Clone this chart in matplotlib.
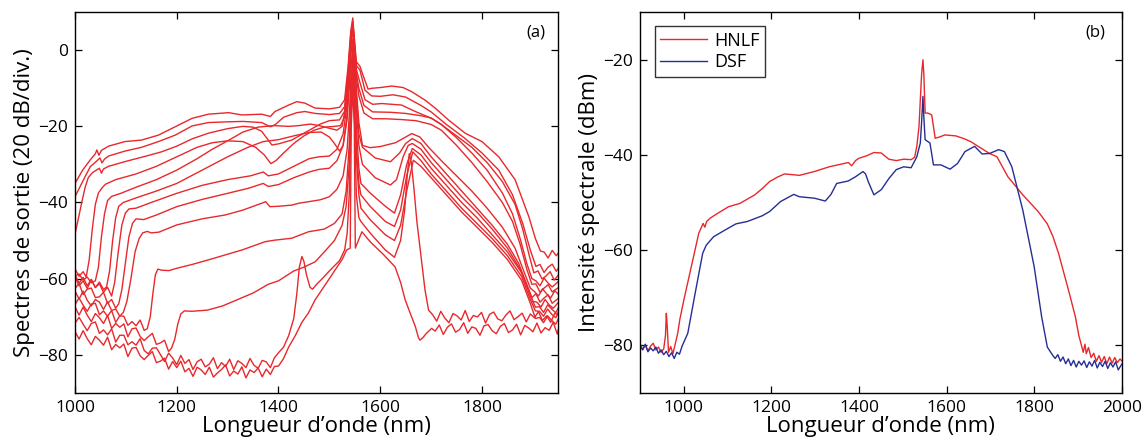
import matplotlib
matplotlib.use('Agg')
import matplotlib.pyplot as plt

plt.rcParams['font.family'] = ['Open Sans', 'DejaVu Sans']

# ---- panel (a): output spectra, 13 traces (nm, dB) ----
spec_a = [(1000, -35.0), (1015, -31.5), (1030, -28.8), (1040, -27.2), (1043, -26.2), (1047, -27.6), (1052, -26.3),
          (1066, -25.2), (1098, -24.0), (1131, -23.6), (1164, -22.3), (1197, -20.1), (1230, -17.9), (1262, -16.8),
          (1302, -16.4), (1328, -17.0), (1367, -16.8), (1384, -17.4), (1393, -16.1), (1420, -14.4), (1436, -13.5),
          (1452, -13.9), (1472, -15.2), (1500, -15.4), (1520, -15.0), (1530, -13.0), (1537, -4.0), (1542, 5.0),
          (1546, 8.5), (1549, 3.5), (1553, -3.0), (1560, -4.2), (1566, -6.5), (1576, -10.2), (1583, -10.0),
          (1600, -9.8), (1623, -9.4), (1645, -9.8), (1662, -10.9), (1688, -13.1), (1708, -15.2), (1734, -18.3),
          (1767, -21.8), (1800, -24.0), (1833, -28.0), (1865, -34.0), (1892, -43.7), (1905, -49.5), (1915, -52.8),
          (1922, -53.0), (1930, -54.6), (1938, -52.6), (1946, -54.0), (1950, -53.3)]
spec_b = [(1000, -38.5), (1015, -34.5), (1030, -30.6), (1042, -29.2), (1049, -28.3), (1053, -29.6), (1058, -28.6),
          (1066, -27.8), (1098, -26.5), (1131, -25.5), (1164, -24.0), (1197, -22.3), (1230, -19.9), (1262, -19.0),
          (1302, -18.8), (1330, -18.7), (1367, -19.0), (1384, -20.1), (1393, -19.6), (1410, -17.6), (1436, -16.4),
          (1452, -16.1), (1472, -16.6), (1500, -16.9), (1520, -16.6), (1530, -14.8), (1537, -5.0), (1542, 4.0),
          (1546, 7.5), (1549, 2.5), (1553, -4.0), (1560, -5.2), (1570, -10.5), (1583, -12.0), (1600, -12.1),
          (1625, -11.7), (1650, -12.3), (1680, -14.5), (1700, -16.2), (1730, -19.5), (1765, -23.0), (1800, -27.0),
          (1833, -31.5), (1860, -38.0), (1880, -45.5), (1895, -52.5), (1906, -56.8), (1914, -56.3), (1922, -58.4),
          (1930, -57.0), (1938, -56.2), (1946, -58.1), (1950, -57.3)]
spec_c = [(1000, -48.3), (1007, -44.0), (1014, -39.5), (1020, -36.0), (1026, -33.5), (1034, -32.2), (1042, -31.5),
          (1048, -31.0), (1052, -32.3), (1056, -31.2), (1066, -30.5), (1100, -29.2), (1140, -27.8), (1170, -26.7),
          (1200, -25.2), (1230, -23.3), (1262, -21.8), (1300, -20.6), (1330, -20.0), (1350, -20.2), (1367, -21.3),
          (1387, -24.9), (1400, -24.6), (1426, -23.6), (1450, -21.8), (1470, -20.3), (1482, -19.4), (1500, -18.5),
          (1520, -18.3), (1530, -16.0), (1537, -7.0), (1542, 3.0), (1546, 6.5), (1549, 1.5), (1553, -5.0),
          (1558, -7.5), (1570, -13.0), (1585, -14.2), (1603, -14.0), (1642, -14.4), (1669, -16.1), (1701, -17.9),
          (1720, -19.5), (1750, -22.5), (1780, -25.5), (1810, -29.5), (1840, -34.5), (1865, -40.5), (1880, -47.0),
          (1893, -54.0), (1902, -58.5), (1910, -58.0), (1918, -60.1), (1926, -59.3), (1934, -58.2), (1942, -60.4),
          (1950, -59.1)]
spec_d = [(1000, -57.5), (1008, -59.4), (1016, -58.2), (1022, -59.6), (1028, -55.0), (1034, -47.0), (1040, -40.5),
          (1046, -37.5), (1053, -36.2), (1060, -35.2), (1080, -34.0), (1120, -32.5), (1160, -30.5), (1200, -28.0),
          (1240, -25.5), (1270, -24.3), (1300, -23.8), (1330, -24.0), (1355, -25.5), (1372, -27.5), (1385, -29.8),
          (1395, -29.0), (1410, -27.0), (1430, -24.5), (1450, -22.5), (1470, -21.0), (1490, -20.2), (1510, -20.0),
          (1522, -19.8), (1530, -17.5), (1537, -8.0), (1542, 2.0), (1546, 5.5), (1549, 1.0), (1553, -6.0),
          (1558, -10.0), (1568, -14.5), (1585, -16.2), (1620, -16.3), (1650, -16.6), (1680, -17.2), (1700, -17.8),
          (1720, -19.5), (1750, -23.0), (1780, -27.0), (1810, -31.5), (1840, -37.5), (1860, -43.0), (1875, -49.5),
          (1888, -56.0), (1898, -60.0), (1906, -60.6), (1914, -61.9), (1922, -59.9), (1930, -61.2), (1938, -62.2),
          (1950, -60.8)]
spec_e = [(1000, -59.3), (1008, -58.8), (1016, -60.4), (1024, -59.6), (1032, -61.1), (1040, -60.6), (1046, -57.0),
          (1052, -49.0), (1058, -43.0), (1064, -39.5), (1072, -38.4), (1090, -37.6), (1120, -36.0), (1160, -34.0),
          (1200, -31.5), (1240, -28.5), (1270, -26.0), (1300, -23.8), (1330, -21.5), (1360, -20.2), (1390, -19.8),
          (1420, -20.0), (1440, -19.8), (1463, -19.4), (1480, -19.8), (1500, -20.5), (1515, -21.0), (1525, -20.0),
          (1533, -14.0), (1539, -3.0), (1543, 4.0), (1546, 7.0), (1549, 2.0), (1553, -7.0), (1558, -12.0),
          (1568, -16.5), (1585, -18.0), (1610, -18.0), (1640, -18.2), (1670, -18.5), (1700, -19.5), (1720, -21.0),
          (1750, -25.0), (1780, -29.5), (1810, -34.5), (1840, -40.0), (1860, -45.0), (1875, -51.0), (1888, -57.5),
          (1898, -61.5), (1906, -61.4), (1914, -63.6), (1922, -62.5), (1930, -61.6), (1938, -63.5), (1950, -62.4)]
spec_f = [(1000, -59.0), (1008, -61.2), (1016, -59.7), (1024, -61.9), (1032, -60.2), (1040, -62.4), (1048, -60.9),
          (1056, -62.9), (1062, -62.2), (1068, -58.0), (1074, -50.0), (1080, -44.0), (1086, -41.0), (1095, -40.0),
          (1120, -38.8), (1160, -37.0), (1200, -35.0), (1250, -31.5), (1300, -28.0), (1340, -25.5), (1370, -24.0),
          (1400, -23.5), (1430, -22.5), (1460, -21.6), (1484, -21.5), (1500, -22.8), (1510, -24.5), (1520, -26.5),
          (1527, -25.0), (1534, -18.0), (1540, -5.0), (1543, 3.0), (1546, 6.0), (1549, 1.0), (1553, -10.0),
          (1558, -19.0), (1565, -25.0), (1580, -25.6), (1600, -25.3), (1630, -24.3), (1650, -22.8), (1662, -21.9),
          (1678, -22.8), (1695, -25.5), (1720, -29.0), (1750, -33.0), (1780, -37.0), (1810, -41.5), (1840, -46.5),
          (1865, -52.0), (1882, -58.0), (1895, -62.5), (1903, -63.4), (1911, -64.6), (1919, -62.7), (1927, -64.0),
          (1935, -65.1), (1943, -63.2), (1950, -64.1)]
spec_g = [(1000, -59.6), (1008, -61.9), (1016, -60.6), (1024, -62.6), (1032, -60.3), (1040, -62.3), (1048, -61.4),
          (1056, -63.6), (1064, -62.3), (1072, -64.6), (1078, -61.0), (1085, -53.0), (1092, -46.0), (1099, -42.8),
          (1106, -41.7), (1120, -41.5), (1150, -40.0), (1200, -37.6), (1250, -35.5), (1300, -34.0), (1345, -33.0),
          (1370, -32.0), (1380, -33.0), (1400, -32.5), (1430, -30.5), (1460, -28.5), (1480, -28.0), (1500, -27.8),
          (1515, -26.0), (1527, -22.0), (1535, -14.0), (1540, -3.0), (1543, 3.0), (1546, 5.0), (1549, 0.0),
          (1553, -12.0), (1558, -22.0), (1565, -25.5), (1590, -28.3), (1620, -29.3), (1638, -27.0), (1650, -24.5),
          (1663, -23.2), (1680, -24.5), (1700, -28.0), (1730, -32.5), (1760, -37.0), (1790, -41.5), (1820, -46.0),
          (1850, -51.0), (1872, -56.0), (1888, -61.5), (1898, -65.0), (1906, -64.0), (1914, -66.2), (1922, -65.1),
          (1930, -64.3), (1938, -66.5), (1950, -65.2)]
spec_h = [(1000, -62.6), (1008, -61.3), (1016, -64.2), (1024, -62.8), (1032, -62.5), (1040, -65.0), (1048, -64.8),
          (1056, -63.6), (1064, -66.5), (1072, -65.5), (1080, -67.8), (1086, -66.6), (1092, -63.0), (1099, -56.0),
          (1106, -49.0), (1113, -45.5), (1120, -44.3), (1135, -44.5), (1160, -43.3), (1200, -41.1), (1250, -39.2),
          (1300, -37.6), (1340, -36.3), (1370, -35.0), (1380, -35.8), (1400, -35.3), (1430, -33.5), (1460, -32.0),
          (1480, -31.3), (1500, -31.0), (1515, -29.0), (1527, -25.0), (1535, -18.0), (1540, -8.0), (1543, 0.0),
          (1546, 3.0), (1549, -2.0), (1553, -15.0), (1558, -25.0), (1565, -30.0), (1590, -33.5), (1620, -35.4),
          (1632, -34.0), (1645, -28.0), (1655, -25.0), (1663, -24.5), (1680, -26.0), (1700, -29.5), (1730, -34.0),
          (1760, -38.5), (1790, -42.5), (1820, -47.0), (1850, -52.0), (1875, -57.5), (1890, -62.5), (1900, -66.0),
          (1908, -66.2), (1916, -67.5), (1924, -65.5), (1932, -66.9), (1940, -67.8), (1950, -66.3)]
spec_i = [(1000, -63.3), (1008, -65.4), (1016, -63.3), (1024, -65.7), (1032, -67.2), (1040, -65.5), (1048, -66.2),
          (1056, -68.1), (1064, -66.1), (1072, -68.4), (1080, -68.0), (1088, -69.9), (1095, -68.9), (1102, -66.0),
          (1110, -60.0), (1118, -53.0), (1126, -49.5), (1133, -48.0), (1142, -47.6), (1150, -48.0), (1165, -47.8),
          (1200, -45.9), (1250, -44.3), (1295, -43.3), (1330, -42.0), (1367, -40.2), (1375, -39.8), (1383, -41.1),
          (1400, -41.0), (1426, -40.7), (1440, -40.2), (1459, -39.8), (1482, -39.3), (1500, -38.5), (1515, -36.5),
          (1527, -33.0), (1535, -26.0), (1540, -15.0), (1543, -4.0), (1546, 1.0), (1549, -5.0), (1553, -20.0),
          (1558, -31.0), (1562, -35.0), (1580, -37.5), (1610, -41.0), (1628, -42.8), (1640, -38.0), (1652, -30.0),
          (1663, -25.8), (1680, -27.5), (1700, -31.0), (1730, -35.5), (1760, -40.0), (1790, -44.0), (1820, -48.5),
          (1850, -53.0), (1878, -58.5), (1895, -64.5), (1905, -67.5), (1913, -67.4), (1921, -68.9), (1929, -66.9),
          (1937, -68.0), (1945, -69.0), (1950, -67.7)]
spec_j = [(1000, -66.8), (1008, -65.1), (1016, -67.0), (1024, -68.6), (1032, -66.7), (1040, -66.5), (1048, -69.5),
          (1056, -68.5), (1064, -69.9), (1072, -68.4), (1080, -71.5), (1088, -69.8), (1096, -69.9), (1104, -72.3),
          (1112, -71.3), (1120, -72.4), (1128, -70.9), (1136, -73.6), (1142, -73.2), (1148, -70.0), (1153, -64.0),
          (1158, -59.0), (1163, -57.5), (1170, -57.8), (1185, -57.9), (1200, -57.3), (1230, -56.3), (1262, -55.1),
          (1300, -53.6), (1328, -52.5), (1374, -50.3), (1393, -49.9), (1426, -49.4), (1459, -47.7), (1490, -47.0),
          (1510, -45.5), (1525, -43.0), (1533, -37.0), (1539, -25.0), (1543, -8.0), (1546, -1.0), (1549, -8.0),
          (1553, -25.0), (1558, -35.0), (1562, -38.0), (1580, -41.0), (1610, -45.0), (1628, -46.3), (1640, -42.0),
          (1652, -33.0), (1664, -26.7), (1680, -29.0), (1700, -32.5), (1730, -37.0), (1760, -41.5), (1790, -45.5),
          (1820, -49.5), (1850, -54.0), (1878, -59.5), (1895, -65.5), (1905, -68.5), (1913, -68.6), (1921, -69.9),
          (1929, -68.0), (1937, -69.4), (1945, -70.3), (1950, -68.8)]
spec_k = [(1000, -67.4), (1008, -69.6), (1016, -67.5), (1024, -69.6), (1032, -71.3), (1040, -69.2), (1048, -70.3),
          (1056, -71.8), (1064, -69.7), (1072, -73.1), (1080, -71.8), (1088, -72.8), (1096, -71.9), (1104, -75.3),
          (1112, -73.2), (1120, -73.0), (1128, -75.2), (1136, -76.3), (1144, -75.3), (1152, -74.4), (1160, -77.3),
          (1168, -76.9), (1176, -76.2), (1184, -79.2), (1190, -78.2), (1196, -76.0), (1202, -72.0), (1208, -69.3),
          (1215, -68.5), (1230, -68.6), (1260, -68.3), (1290, -67.2), (1320, -65.5), (1350, -63.8), (1380, -61.5),
          (1400, -60.6), (1430, -58.0), (1450, -57.0), (1472, -55.6), (1490, -53.0), (1510, -50.0), (1525, -46.0),
          (1533, -41.0), (1539, -30.0), (1543, -12.0), (1546, -3.0), (1549, -12.0), (1553, -28.0), (1558, -38.0),
          (1562, -41.5), (1580, -44.5), (1610, -48.5), (1628, -50.0), (1640, -46.0), (1652, -37.0), (1665, -28.9),
          (1680, -30.5), (1700, -33.5), (1730, -38.0), (1760, -42.5), (1790, -46.5), (1820, -50.5), (1850, -55.0),
          (1878, -60.5), (1895, -66.5), (1905, -70.5), (1913, -70.2), (1921, -71.6), (1929, -69.8), (1937, -71.0),
          (1945, -72.0), (1950, -70.6)]
spec_l = [(1000, -71.7), (1008, -70.2), (1016, -72.0), (1024, -73.7), (1032, -71.8), (1040, -71.4), (1048, -74.4),
          (1056, -73.5), (1064, -74.8), (1072, -73.2), (1080, -76.7), (1088, -74.9), (1096, -74.9), (1104, -77.4),
          (1112, -76.6), (1120, -77.5), (1128, -75.8), (1136, -78.9), (1144, -79.8), (1152, -78.3), (1160, -78.2),
          (1168, -80.0), (1176, -81.8), (1184, -79.6), (1192, -80.9), (1200, -82.6), (1208, -80.2), (1216, -82.3),
          (1224, -81.3), (1232, -83.9), (1240, -81.9), (1248, -81.2), (1256, -83.2), (1264, -82.5), (1272, -80.8),
          (1280, -83.7), (1288, -82.1), (1296, -83.1), (1304, -81.2), (1312, -83.9), (1320, -81.6), (1328, -82.3),
          (1336, -83.4), (1344, -81.0), (1352, -82.8), (1360, -83.6), (1368, -81.5), (1376, -81.9), (1384, -83.4),
          (1392, -80.8), (1400, -79.5), (1410, -78.0), (1420, -75.0), (1430, -70.5), (1436, -64.0), (1441, -57.0),
          (1446, -54.2), (1450, -55.5), (1455, -59.0), (1462, -62.3), (1467, -62.8), (1475, -61.5), (1484, -60.3),
          (1500, -58.0), (1520, -55.3), (1530, -52.5), (1535, -48.0), (1539, -38.0), (1543, -15.0), (1546, -5.0),
          (1549, -15.0), (1553, -38.0), (1558, -44.0), (1562, -45.0), (1580, -48.0), (1610, -52.5), (1628, -54.4),
          (1640, -50.0), (1648, -42.0), (1653, -33.0), (1657, -27.2), (1661, -29.5), (1666, -36.0), (1672, -45.0),
          (1680, -54.0), (1688, -63.0), (1695, -68.3), (1703, -69.5), (1711, -71.2), (1719, -68.6), (1727, -70.4),
          (1735, -71.6), (1743, -69.2), (1751, -69.8), (1759, -70.9), (1767, -68.4), (1775, -71.3), (1783, -69.7),
          (1791, -70.1), (1799, -68.9), (1807, -71.7), (1815, -69.4), (1823, -68.8), (1831, -70.6), (1839, -71.1),
          (1847, -69.6), (1855, -68.5), (1863, -70.8), (1871, -70.0), (1879, -69.1), (1887, -71.4), (1895, -69.3),
          (1903, -70.3), (1911, -68.7), (1919, -71.0), (1927, -69.8), (1935, -71.5), (1943, -69.1), (1950, -69.6)]
spec_m = [(1000, -73.9), (1008, -75.9), (1016, -73.7), (1024, -75.8), (1032, -77.4), (1040, -75.2), (1048, -76.2),
          (1056, -77.5), (1064, -75.4), (1072, -78.7), (1080, -77.3), (1088, -78.2), (1096, -77.2), (1104, -80.5),
          (1112, -78.3), (1120, -78.1), (1128, -80.3), (1136, -81.3), (1144, -80.2), (1152, -79.2), (1160, -82.1),
          (1168, -81.7), (1176, -80.9), (1184, -83.8), (1192, -81.8), (1200, -83.4), (1208, -81.7), (1216, -84.5),
          (1224, -83.6), (1232, -85.7), (1240, -83.3), (1248, -84.0), (1256, -85.2), (1264, -83.3), (1272, -85.9),
          (1280, -84.8), (1288, -83.9), (1296, -82.7), (1304, -85.6), (1312, -84.3), (1320, -85.1), (1328, -83.2),
          (1336, -86.1), (1344, -84.0), (1352, -84.7), (1360, -83.5), (1368, -85.8), (1376, -83.8), (1384, -85.2),
          (1392, -83.1), (1400, -83.0), (1410, -81.0), (1420, -78.0), (1433, -75.0), (1446, -71.5), (1459, -69.0),
          (1472, -65.6), (1490, -62.0), (1510, -58.0), (1525, -55.0), (1534, -52.5), (1541, -52.0), (1543, -20.0),
          (1546, -10.0), (1549, -20.0), (1551, -52.0), (1557, -50.0), (1564, -47.7), (1575, -49.5), (1583, -50.7),
          (1605, -53.5), (1629, -56.9), (1640, -61.0), (1649, -65.6), (1660, -69.5), (1669, -72.6), (1675, -75.5),
          (1678, -76.2), (1684, -75.5), (1690, -74.5), (1701, -73.1), (1708, -73.8), (1716, -72.2), (1724, -74.7),
          (1732, -72.8), (1740, -71.9), (1748, -74.1), (1756, -73.4), (1764, -71.6), (1772, -74.4), (1780, -72.7),
          (1788, -73.1), (1796, -74.9), (1804, -72.4), (1812, -72.1), (1820, -73.7), (1828, -74.5), (1836, -72.6),
          (1844, -71.8), (1852, -74.2), (1860, -73.5), (1868, -72.0), (1876, -74.8), (1884, -72.3), (1892, -73.0),
          (1900, -74.0), (1908, -71.7), (1916, -74.3), (1924, -72.9), (1932, -73.6), (1940, -71.5), (1948, -74.6),
          (1950, -73.4)]
spectra_a = [spec_a, spec_b, spec_c, spec_d, spec_e, spec_f, spec_g,
             spec_h, spec_i, spec_j, spec_k, spec_l, spec_m]

# ---- panel (b): HNLF vs DSF (nm, dBm) ----
hnlf = [(900, -79.7), (906, -80.9), (912, -80.0), (918, -81.2), (924, -80.2), (930, -79.6), (936, -81.0), (942, -80.4),
        (948, -81.5), (954, -80.8), (958, -78.0), (960, -73.3), (962, -76.0), (965, -81.5), (970, -80.3), (975, -81.8),
        (981, -79.5), (986, -77.5), (991, -74.5), (1000, -70.5), (1017, -63.5), (1034, -56.5), (1044, -54.4),
        (1048, -55.2), (1052, -54.0), (1060, -53.3), (1077, -52.3), (1102, -50.9), (1128, -50.2), (1145, -49.3),
        (1162, -48.4), (1180, -47.0), (1196, -45.6), (1213, -44.7), (1230, -44.0), (1264, -44.3), (1298, -43.5),
        (1332, -42.5), (1366, -41.8), (1376, -41.6), (1383, -42.3), (1392, -41.2), (1400, -40.7), (1417, -40.2),
        (1434, -39.5), (1451, -39.6), (1468, -40.9), (1485, -41.2), (1502, -40.9), (1519, -41.0), (1527, -40.5),
        (1532, -38.2), (1537, -34.0), (1540, -28.4), (1543, -23.0), (1546, -20.0), (1548, -23.0), (1551, -31.2),
        (1557, -31.2), (1566, -31.6), (1574, -36.5), (1585, -36.2), (1596, -35.8), (1621, -36.0), (1640, -36.6),
        (1655, -37.2), (1672, -38.2), (1698, -39.7), (1715, -40.4), (1740, -44.6), (1774, -48.4), (1809, -51.9),
        (1830, -54.5), (1843, -57.2), (1856, -60.8), (1868, -64.9), (1880, -69.0), (1894, -74.0), (1902, -78.0),
        (1907, -79.7), (1912, -81.5), (1916, -79.8), (1919, -81.8), (1924, -80.5), (1930, -82.6), (1936, -81.7),
        (1942, -83.4), (1948, -82.2), (1954, -83.6), (1960, -82.4), (1966, -83.9), (1972, -82.5), (1978, -83.8),
        (1984, -82.6), (1990, -83.7), (1996, -82.9), (2000, -83.3)]
dsf = [(900, -80.2), (906, -81.0), (912, -79.8), (918, -81.4), (924, -80.6), (930, -81.2), (936, -80.4), (942, -81.7),
       (948, -81.0), (954, -82.0), (960, -81.3), (966, -82.4), (972, -81.6), (978, -82.8), (984, -81.5), (990, -81.9),
       (996, -80.2), (1009, -77.5), (1026, -69.0), (1043, -60.7), (1051, -59.0), (1068, -57.2), (1094, -55.8),
       (1119, -54.5), (1145, -54.0), (1179, -52.8), (1196, -51.9), (1221, -49.8), (1251, -48.3), (1264, -48.8),
       (1298, -49.1), (1323, -49.7), (1336, -48.3), (1349, -46.0), (1375, -45.5), (1392, -44.6), (1409, -43.5),
       (1415, -44.0), (1421, -45.6), (1434, -48.4), (1451, -47.3), (1468, -45.0), (1485, -43.1), (1502, -42.5),
       (1519, -42.7), (1532, -40.4), (1540, -37.5), (1543, -33.0), (1546, -27.7), (1548, -32.0), (1551, -36.8),
       (1562, -37.5), (1570, -42.1), (1587, -42.1), (1608, -43.0), (1625, -41.8), (1642, -39.3), (1664, -38.2),
       (1681, -39.8), (1698, -39.7), (1719, -38.9), (1732, -39.3), (1749, -42.5), (1774, -51.6), (1800, -63.5),
       (1817, -74.0), (1830, -80.4), (1842, -82.1), (1848, -82.8), (1854, -82.0), (1860, -83.4), (1866, -82.5),
       (1872, -83.9), (1878, -82.9), (1884, -84.3), (1890, -83.2), (1896, -84.6), (1902, -83.4), (1908, -84.2),
       (1914, -83.3), (1920, -84.7), (1926, -83.5), (1932, -84.4), (1938, -83.2), (1944, -84.8), (1950, -83.6),
       (1956, -84.5), (1962, -83.4), (1968, -84.9), (1974, -83.7), (1980, -84.6), (1986, -83.5), (1992, -85.2),
       (2000, -84.0)]

RED = '#e8282c'
BLUE = '#252f93'


def style_axes(ax):
    ax.tick_params(direction='in', top=True, right=True, length=5, width=0.9,
                   labelsize=12.5, pad=5)
    for s in ax.spines.values():
        s.set_linewidth(1.0)


fig = plt.figure(figsize=(11.45, 4.41), dpi=100)

ax1 = fig.add_axes([0.0655, 0.1095, 0.4221, 0.8628])
for sp in spectra_a:
    wl, db = zip(*sp)
    ax1.plot(wl, db, color=RED, lw=1.0)
ax1.set_xlim(1000, 1950)
ax1.set_ylim(-90, 10)
ax1.set_xticks([1000, 1200, 1400, 1600, 1800])
ax1.set_yticks([-80, -60, -40, -20, 0])
ax1.set_xlabel('Longueur d\u2019onde (nm)', fontsize=16, labelpad=0)
ax1.set_ylabel('Spectres de sortie (20 dB/div.)', fontsize=16, labelpad=2)
ax1.text(0.953, 0.946, '(a)', transform=ax1.transAxes, ha='center', va='center', fontsize=12)
style_axes(ax1)

ax2 = fig.add_axes([0.5590, 0.1095, 0.4207, 0.8628])
wl, db = zip(*hnlf)
ax2.plot(wl, db, color=RED, lw=1.0, label='HNLF')
wl, db = zip(*dsf)
ax2.plot(wl, db, color=BLUE, lw=1.0, label='DSF')
ax2.set_xlim(900, 2000)
ax2.set_ylim(-90, -10)
ax2.set_xticks([1000, 1200, 1400, 1600, 1800, 2000])
ax2.set_yticks([-80, -60, -40, -20])
ax2.set_xlabel('Longueur d\u2019onde (nm)', fontsize=16, labelpad=0)
ax2.set_ylabel('Intensit\u00e9 spectrale (dBm)', fontsize=16, labelpad=2)
ax2.text(0.946, 0.946, '(b)', transform=ax2.transAxes, ha='center', va='center', fontsize=12)
leg = ax2.legend(loc='upper left', bbox_to_anchor=(0.031, 0.963), borderaxespad=0,
                 fontsize=13, frameon=True, fancybox=False, handlelength=2.6,
                 handletextpad=0.4, borderpad=0.3, labelspacing=0.2)
leg.get_frame().set_edgecolor('black')
leg.get_frame().set_linewidth(1.0)
style_axes(ax2)

fig.savefig('out.png', dpi=100)
